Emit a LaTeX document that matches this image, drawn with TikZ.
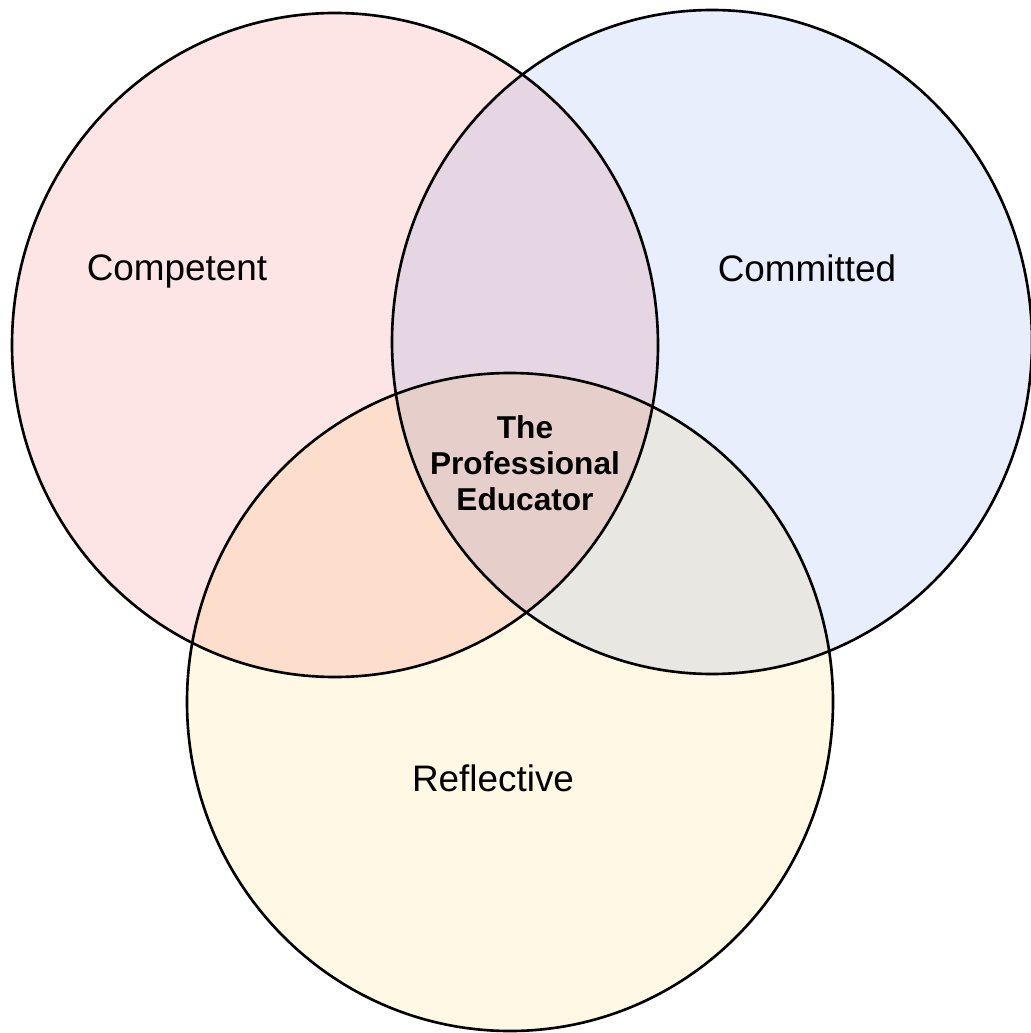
\documentclass[tikz,border=0pt]{standalone}
\usepackage{fontspec}
\setmainfont{Liberation Sans}
\usepackage{xcolor}
\usepackage{tikz}
\usetikzlibrary{positioning}

\definecolor{setpink}{RGB}{253,229,229}
\definecolor{setblue}{RGB}{232,238,252}
\definecolor{setyellow}{RGB}{255,248,229}

\begin{document}
\begin{tikzpicture}[
    x=0.02cm, y=-0.02cm,
    ring/.style={draw=black, line width=1.5pt},
    setlbl/.style={font=\fontsize{21}{25}\selectfont, inner sep=0pt},
    core/.style={font=\fontsize{18}{20.5}\selectfont\bfseries, align=center, inner sep=0pt},
]
\useasboundingbox (0,0) rectangle (1030,1033);

% --- Set fills (multiplied where they overlap) ---
\begin{scope}[blend group=multiply]
    \fill[setpink] (335,345) ellipse [x radius=323, y radius=332];
    \fill[setblue] (712,342) ellipse [x radius=320, y radius=332];
    \fill[setyellow] (510,702) ellipse [x radius=323, y radius=329];
\end{scope}

% --- Outlines ---
\draw[ring] (335,345) ellipse [x radius=323, y radius=332];
\draw[ring] (712,342) ellipse [x radius=320, y radius=332];
\draw[ring] (510,702) ellipse [x radius=323, y radius=329];

% --- Labels ---
\node[setlbl] (competent) at (177,271) {Competent};
\node[setlbl] (committed) at (807,268) {Committed};
\node[setlbl] (reflective) at (493,778) {Reflective};
\node[core] (educator) at (525,463) {The\\Professional\\Educator};

\end{tikzpicture}
\end{document}
